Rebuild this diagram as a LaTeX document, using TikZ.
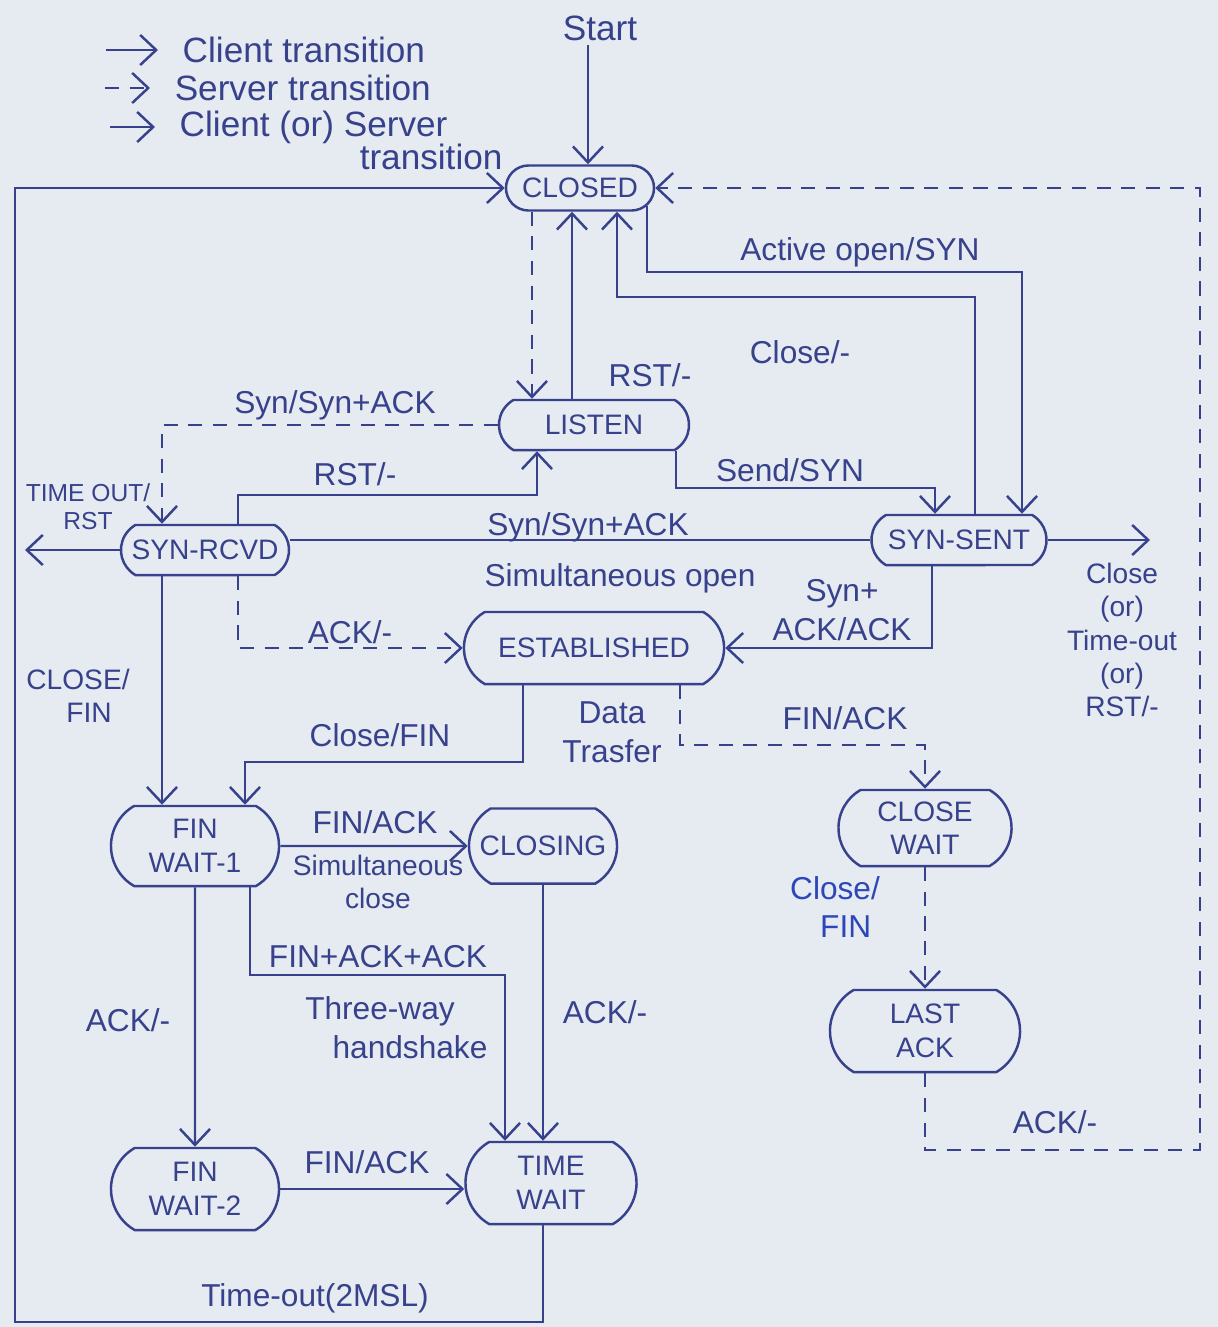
\documentclass[tikz,border=0pt]{standalone}
\usepackage{fontspec}
\setmainfont{Liberation Sans}
\usetikzlibrary{shapes.misc,arrows.meta}

\definecolor{ink}{RGB}{55,65,140}
\definecolor{inkb}{RGB}{45,70,185}
\definecolor{paper}{RGB}{229,235,241}

\tikzset{
  state/.style={draw, rounded rectangle, rounded rectangle arc length=120, inner sep=1pt, align=center, font=\footnotesize},
  lbl/.style={inner sep=1pt, align=center, font=\small},
  srv/.style={dash pattern=on 4pt off 3pt},
}

\begin{document}
\begin{tikzpicture}[x=0.01cm, y=-0.01cm, color=ink, line width=0.7pt, >={Straight Barb[length=1.6mm,width=3mm]}]
\fill[paper] (0,0) rectangle (1218,1327);
% Legenda
\node[lbl, font=\normalsize, anchor=west] (lgcli) at (178,50) {Client transition};
\node[lbl, font=\normalsize, anchor=west] (lgsrv) at (170,88) {Server transition};
\node[lbl, font=\normalsize, anchor=west] (lgall) at (175,127) {Client (or) Server};
\node[lbl, font=\normalsize, anchor=west] (lgall2) at (355,157) {transition};
\draw[->] ([xshift=-0.72cm]lgcli.west) -- ([xshift=-0.2cm]lgcli.west);
\draw[->,srv] ([xshift=-0.65cm]lgsrv.west) -- ([xshift=-0.2cm]lgsrv.west);
\draw[->] ([xshift=-0.65cm]lgall.west) -- ([xshift=-0.2cm]lgall.west);
% Estados
\node[lbl, font=\normalsize] (start) at (600,28) {Start};
\node[state, rounded rectangle arc length=180, minimum width=1.55cm, minimum height=0.45cm] (closed) at (580,188) {CLOSED};
\node[state, minimum width=1.97cm, minimum height=0.5cm] (listen) at (594,425) {LISTEN};
\node[state, minimum width=1.75cm, minimum height=0.5cm] (synrcvd) at (205,550) {SYN-RCVD};
\node[state, minimum width=1.82cm, minimum height=0.5cm] (synsent) at (959,540) {SYN-SENT};
\node[state, minimum width=2.67cm, minimum height=0.72cm] (estab) at (594,648) {ESTABLISHED};
\node[state, minimum width=1.75cm, minimum height=0.8cm] (finwaitone) at (195,846) {FIN\\WAIT-1};
\node[state, minimum width=1.55cm, minimum height=0.75cm] (closing) at (543,846) {CLOSING};
\node[state, minimum width=1.8cm, minimum height=0.76cm] (closewait) at (925,828) {CLOSE\\WAIT};
\node[state, minimum width=1.97cm, minimum height=0.82cm] (lastack) at (925,1031) {LAST\\ACK};
\node[state, minimum width=1.75cm, minimum height=0.82cm] (finwaittwo) at (195,1189) {FIN\\WAIT-2};
\node[state, minimum width=1.78cm, minimum height=0.82cm] (timewait) at (551,1183) {TIME\\WAIT};
% Pistas verticais e horizontais
\coordinate (l0) at (588,0);
\coordinate (lA) at (532,0);
\coordinate (lB) at (572,0);
\coordinate (lC) at (617,0);
\coordinate (lE) at (1022,0);
\coordinate (lF) at (975,0);
\coordinate (lG) at (676,0);
\coordinate (lH) at (935,0);
\coordinate (lI) at (162,0);
\coordinate (lJ) at (238,0);
\coordinate (lK) at (537,0);
\coordinate (lL) at (932,0);
\coordinate (lM) at (523,0);
\coordinate (lN) at (245,0);
\coordinate (lO) at (680,0);
\coordinate (lQ) at (250,0);
\coordinate (lR) at (505,0);
\coordinate (lS) at (543,0);
\coordinate (eL) at (25,0);
\coordinate (eR) at (1150,0);
\coordinate (hA) at (0,272);
\coordinate (hB) at (0,297);
\coordinate (hC) at (0,488);
\coordinate (hD) at (0,495);
\coordinate (hE) at (0,762);
\coordinate (hF) at (0,745);
\coordinate (hG) at (0,975);
\coordinate (lU) at (15,1322);
\coordinate (lV) at (1200,1150);
% Transicoes
\draw[->] (l0 |- start.south) -- (l0 |- closed.north);
\draw[->] (lS |- timewait.south) |- (lU) |- (closed.west);
\draw[->,srv] (lastack.south) |- (lV) |- (closed.east);
\draw[->,srv] (lA |- closed.south) -- (lA |- listen.north);
\draw[->] (lB |- listen.north) -- (lB |- closed.south);
\draw[->] (lF |- synsent.north) |- (hB -| lC) -- (lC |- closed.south);
\draw[->] (closed.-15) |- (hA -| lE) -- (lE |- synsent.north);
\draw[->] (lG |- listen.south) |- (hC -| lH) -- (lH |- synsent.north);
\draw[->,srv] (listen.west) -| (lI |- synrcvd.north);
\draw[->] (lJ |- synrcvd.north) |- (hD -| lK) -- (lK |- listen.south);
\draw (synsent.west) -- (synsent.west -| synrcvd.east);
\draw[->] (synrcvd.west) -- (synrcvd.west -| eL);
\draw[->,srv] (lJ |- synrcvd.south) |- (estab.west);
\draw[->] (lL |- synsent.south) |- (estab.east);
\draw[->] (synsent.east) -- (synsent.east -| eR);
\draw[->] (lI |- synrcvd.south) -- (lI |- finwaitone.north);
\draw[->] (lM |- estab.south) |- (hE -| lN) -- (lN |- finwaitone.north);
\draw[->,srv] (lO |- estab.south) |- (hF -| closewait.north) -- (closewait.north);
\draw[->,srv] (closewait.south) -- (lastack.north);
\draw[->] (finwaitone) -- (closing);
\draw[->] (lQ |- finwaitone.south) |- (hG -| lR) -- (lR |- timewait.north);
\draw[->] (closing.south) -- (closing.south |- timewait.north);
\draw[->] (finwaitone) -- (finwaittwo);
\draw[->] (finwaittwo.east) -- (finwaittwo.east -| timewait.west);
% Rotulos
\node[lbl] (tactive) at (860,252) {Active open/SYN};
\node[lbl] (tclose) at (800,352) {Close/-};
\node[lbl] (trst) at (650,375) {RST/-};
\node[lbl] (tsynl) at (335,405) {Syn/Syn+ACK};
\node[lbl] (trstl) at (355,474) {RST/-};
\node[lbl] (tsend) at (790,470) {Send/SYN};
\node[lbl, font=\scriptsize] (ttimeout) at (88,507) {TIME OUT/\\RST};
\node[lbl] (tsyns) at (588,527) {Syn/Syn+ACK};
\node[lbl] (tsimo) at (620,578) {Simultaneous open};
\node[lbl] (tsynack) at (842,610) {Syn+\\ACK/ACK};
\node[lbl] (tack) at (350,632) {ACK/-};
\node[lbl, font=\footnotesize] (tabort) at (1122,640) {Close\\(or)\\Time-out\\(or)\\RST/-};
\node[lbl, font=\footnotesize, align=left] (tclosefin) at (78,696) {CLOSE/\\\hspace*{0.4cm}FIN};
\node[lbl] (tclosefin2) at (380,735) {Close/FIN};
\node[lbl] (tdata) at (612,732) {Data\\Trasfer};
\node[lbl] (tfinack) at (845,718) {FIN/ACK};
\node[lbl] (tfinack2) at (375,822) {FIN/ACK};
\node[lbl, font=\footnotesize] (tsimc) at (378,882) {Simultaneous\\close};
\node[lbl, text=inkb, align=left] (tclosefin3) at (835,907) {Close/\\\hspace*{0.3cm}FIN};
\node[lbl] (tfinackack) at (378,957) {FIN+ACK+ACK};
\node[lbl] (tthree) at (380,1028) {Three-way\\\hspace*{0.6cm}handshake};
\node[lbl] (tack2) at (605,1012) {ACK/-};
\node[lbl] (tack3) at (128,1020) {ACK/-};
\node[lbl] (tack4) at (1055,1122) {ACK/-};
\node[lbl] (tfinack3) at (367,1162) {FIN/ACK};
\node[lbl] (ttimeout2) at (315,1298) {Time-out(2MSL)};
\end{tikzpicture}
\end{document}
